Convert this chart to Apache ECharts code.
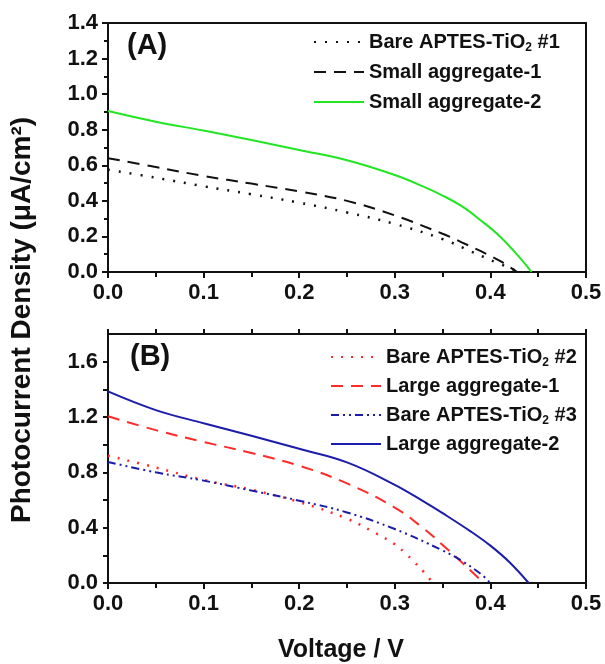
<!DOCTYPE html>
<html>
<head>
<meta charset="utf-8">
<script src="https://cdn.jsdelivr.net/npm/echarts@6/dist/echarts.min.js"></script>
<style>
html,body{margin:0;padding:0;background:#fff;}
#chart{width:605px;height:664px;}
</style>
</head>
<body>
<div id="chart"></div>
<script>
// ---- Data (Voltage / V  vs  Photocurrent density / uA cm^-2) ----
// Panel A
const bare1V = [0, 0.05, 0.1, 0.15, 0.2, 0.25, 0.3, 0.35, 0.38, 0.4, 0.43];
const bare1J = [0.575, 0.53, 0.482, 0.437, 0.39, 0.335, 0.27, 0.185, 0.115, 0.068, 0];
const small1V = [0, 0.05, 0.1, 0.15, 0.2, 0.25, 0.3, 0.35, 0.37, 0.39, 0.41, 0.428];
const small1J = [0.64, 0.59, 0.54, 0.497, 0.453, 0.4, 0.318, 0.215, 0.167, 0.117, 0.062, 0];
const small2V = [0, 0.05, 0.1, 0.15, 0.2, 0.25, 0.3, 0.33, 0.35, 0.37, 0.39, 0.41, 0.43, 0.443];
const small2J = [0.905, 0.845, 0.795, 0.742, 0.686, 0.628, 0.545, 0.48, 0.43, 0.37, 0.29, 0.2, 0.085, 0];
// Panel B
const bare2V = [0, 0.05, 0.1, 0.15, 0.2, 0.25, 0.28, 0.3, 0.31, 0.32, 0.33, 0.34];
const bare2J = [0.92, 0.835, 0.745, 0.675, 0.585, 0.465, 0.36, 0.28, 0.222, 0.155, 0.082, 0];
const large1V = [0, 0.05, 0.1, 0.15, 0.2, 0.25, 0.3, 0.33, 0.35, 0.37, 0.38, 0.393];
const large1J = [1.205, 1.105, 1.02, 0.94, 0.848, 0.72, 0.545, 0.395, 0.275, 0.15, 0.085, 0];
const bare3V = [0, 0.05, 0.1, 0.15, 0.2, 0.25, 0.3, 0.35, 0.37, 0.39, 0.4];
const bare3J = [0.875, 0.8, 0.74, 0.668, 0.595, 0.51, 0.39, 0.235, 0.16, 0.065, 0];
const large2V = [0, 0.05, 0.1, 0.15, 0.2, 0.25, 0.3, 0.33, 0.35, 0.38, 0.4, 0.42, 0.44];
const large2J = [1.385, 1.25, 1.155, 1.065, 0.97, 0.872, 0.71, 0.59, 0.505, 0.37, 0.27, 0.15, 0];

const namesA = ['Bare APTES-TiO2 #1', 'Small aggregate-1', 'Small aggregate-2'];
const namesB = ['Bare APTES-TiO2 #2', 'Large aggregate-1', 'Bare APTES-TiO2 #3', 'Large aggregate-2'];
const xLabelText = 'Voltage / V';
const yLabelText = 'Photocurrent Density (\u03BCA/cm\u00B2)';

function pairs(xs, ys) { return xs.map((x, i) => [x, ys[i]]); }

const FONT = "'Liberation Sans', Arial, sans-serif";
const axisLineStyle = { color: '#111', width: 2 };
const tickLabel = { fontFamily: FONT, fontWeight: 'bold', fontSize: 22, color: '#111' };

function xBottom(gridIndex) {
  return {
    type: 'value', gridIndex, position: 'bottom', min: 0, max: 0.5, interval: 0.1,
    axisLine: { show: true, onZero: false, lineStyle: axisLineStyle },
    axisTick: { show: true, inside: false, length: 6, lineStyle: { width: 2, color: '#111' } },
    minorTick: { show: true, splitNumber: 2, length: 5, lineStyle: { width: 2, color: '#111' } },
    axisLabel: Object.assign({ margin: 10, formatter: v => v.toFixed(1) }, tickLabel),
    splitLine: { show: false }
  };
}
function xTop(gridIndex, ticks) {
  return {
    type: 'value', gridIndex, position: 'top', min: 0, max: 0.5, interval: 0.05,
    axisLine: { show: true, onZero: false, lineStyle: axisLineStyle },
    axisTick: { show: ticks, inside: false, length: 5, lineStyle: { width: 2, color: '#111' } },
    axisLabel: { show: false }, splitLine: { show: false }
  };
}
function yRight(gridIndex, max) {
  return {
    type: 'value', gridIndex, position: 'right', min: 0, max,
    axisLine: { show: true, onZero: false, lineStyle: axisLineStyle },
    axisTick: { show: false }, axisLabel: { show: false }, splitLine: { show: false }
  };
}

const legendText = {
  fontFamily: FONT, fontWeight: 'bold', fontSize: 20, color: '#111', lineHeight: 24,
  rich: {
    n: { fontFamily: FONT, fontWeight: 'bold', fontSize: 20, color: '#111', lineHeight: 24 },
    s: { fontFamily: FONT, fontWeight: 'bold', fontSize: 12, color: '#111', lineHeight: 12, verticalAlign: 'bottom' }
  }
};
function legendFmt(name) {
  const i = name.indexOf('TiO2');
  if (i < 0) return '{n|' + name + '}';
  return '{n|' + name.slice(0, i + 3) + '}{s|2}{n|' + name.slice(i + 4) + '}';
}

function line(name, xs, ys, color, type, xi, yi, width) {
  return {
    name, type: 'line', xAxisIndex: xi, yAxisIndex: yi,
    data: pairs(xs, ys), showSymbol: false, symbol: 'none',
    smooth: 0.4,
    lineStyle: { color, width: width || 2, type },
    itemStyle: { color }, z: 3
  };
}

const GREEN = '#22e622', RED = '#ff2b2b', BLUE = '#1c1caa', BLACK = '#111';

const legendBase = {
  orient: 'vertical', padding: 0, icon: 'inherit',
  itemWidth: 50, itemHeight: 14, formatter: legendFmt, textStyle: legendText,
  itemStyle: { opacity: 0, borderWidth: 0 },
  selectedMode: false
};

const option = {
  backgroundColor: '#fff',
  animation: false,
  grid: [
    { left: 108, right: 19, top: 23, height: 249 },
    { left: 108, right: 19, top: 334, height: 249 }
  ],
  xAxis: [xBottom(0), xTop(0, false), xBottom(1), xTop(1, true)],
  yAxis: [
    {
      type: 'value', gridIndex: 0, position: 'left', min: 0, max: 1.4, interval: 0.2,
      axisLine: { show: true, onZero: false, lineStyle: axisLineStyle },
      axisTick: { show: true, length: 6, lineStyle: { width: 2, color: '#111' } },
      minorTick: { show: true, splitNumber: 2, length: 4, lineStyle: { width: 2, color: '#111' } },
      axisLabel: Object.assign({ margin: 10, formatter: v => v.toFixed(1) }, tickLabel),
      splitLine: { show: false }
    },
    yRight(0, 1.4),
    {
      type: 'value', gridIndex: 1, position: 'left', min: 0, max: 1.8, interval: 0.2,
      axisLine: { show: true, onZero: false, lineStyle: axisLineStyle },
      axisTick: { show: true, length: 5, lineStyle: { width: 2, color: '#111' } },
      axisLabel: Object.assign({ margin: 10, showMaxLabel: false,
        formatter: v => (Math.round(v * 10) % 4 === 0 ? v.toFixed(1) : '') }, tickLabel),
      splitLine: { show: false }
    },
    yRight(1, 1.8)
  ],
  legend: [
    Object.assign({ data: namesA, left: 313, top: 30, itemGap: 6 }, legendBase),
    Object.assign({ data: namesB, left: 330, top: 345, itemGap: 5 }, legendBase)
  ],
  graphic: [
    { type: 'text', x: 127, y: 46, style: { text: '(A)', font: "bold 29px " + FONT, fill: '#111', align: 'left', verticalAlign: 'middle' } },
    { type: 'text', x: 130, y: 357, style: { text: '(B)', font: "bold 29px " + FONT, fill: '#111', align: 'left', verticalAlign: 'middle' } },
    { type: 'text', x: 341, y: 650, style: { text: xLabelText, font: "bold 25px " + FONT, fill: '#111', align: 'center', verticalAlign: 'middle' } },
    { type: 'text', x: 22, y: 320, rotation: Math.PI / 2, style: { text: yLabelText, font: "bold 28px " + FONT, fill: '#111', align: 'center', verticalAlign: 'middle' } }
  ],
  series: [
    line(namesA[0], bare1V, bare1J, BLACK, [2, 9], 0, 0, 2.5),
    line(namesA[1], small1V, small1J, BLACK, [12, 8], 0, 0),
    line(namesA[2], small2V, small2J, GREEN, 'solid', 0, 0),
    line(namesB[0], bare2V, bare2J, RED, [2, 8], 2, 2, 2.5),
    line(namesB[1], large1V, large1J, RED, [12, 8], 2, 2),
    line(namesB[2], bare3V, bare3J, BLUE, [8, 4, 2, 4, 2, 4], 2, 2),
    line(namesB[3], large2V, large2J, BLUE, 'solid', 2, 2)
  ]
};

const chart = echarts.init(document.getElementById('chart'), null, { renderer: 'canvas' });
chart.setOption(option);
</script>
</body>
</html>
